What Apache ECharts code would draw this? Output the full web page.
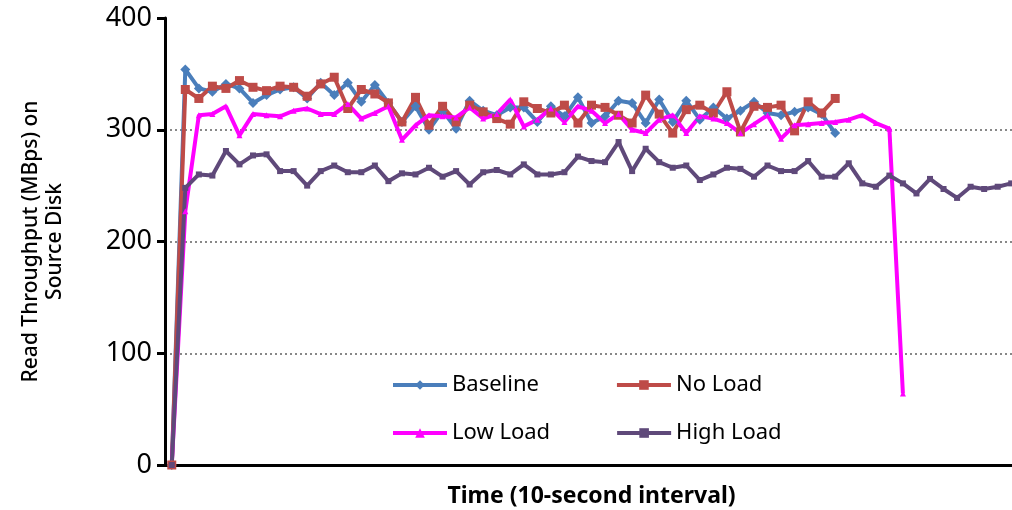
<!DOCTYPE html>
<html>
<head>
<meta charset="utf-8">
<script src="https://cdn.jsdelivr.net/npm/echarts@6/dist/echarts.min.js"></script>
<style>
  html, body { margin: 0; padding: 0; background: #fff; }
  #chart { width: 1012px; height: 510px; }
</style>
</head>
<body>
<div id="chart"></div>
<script>
// readings from the source picture, one per 10-second interval
const baseline = [0, 354, 337, 334, 341, 337, 324, 331, 336, 338, 328, 342, 331, 342, 325, 340, 324, 307, 321, 300,
  317, 301, 326, 317, 313, 320, 320, 307, 321, 312, 329, 306, 312, 326, 324, 306, 327, 307, 326, 309,
  320, 310, 317, 325, 315, 313, 316, 320, 314, 297]
const noLoad = [0, 336, 328, 339, 337, 344, 338, 335, 339, 338, 330, 341, 347, 319, 336, 332, 324, 307, 329, 304,
  321, 307, 322, 316, 310, 305, 325, 319, 315, 322, 306, 322, 320, 313, 306, 331, 314, 297, 318, 322,
  315, 334, 298, 321, 320, 322, 299, 325, 315, 328]
const lowLoad = [0, 227, 313, 314, 321, 295, 314, 313, 312, 317, 319, 314, 314, 323, 310, 315, 321, 291, 304, 313,
  312, 311, 320, 310, 314, 327, 303, 309, 319, 307, 321, 317, 306, 314, 300, 297, 309, 313, 297, 312,
  310, 306, 297, 305, 313, 292, 304, 305, 306, 307, 309, 313, 306, 301, 64]
const highLoad = [0, 248, 260, 259, 281, 269, 277, 278, 263, 263, 250, 263, 268, 262, 262, 268, 254, 261, 260, 266,
  258, 263, 251, 262, 264, 260, 269, 260, 260, 262, 276, 272, 271, 289, 263, 283, 271, 266, 268, 255,
  260, 266, 265, 258, 268, 263, 263, 272, 258, 258, 270, 252, 249, 259, 252, 243, 256, 247, 239, 249,
  247, 249, 252]
const intervals = highLoad.map((v, i) => String(i + 1))
const yTicks = [0, 100, 200, 300, 400]

const font = 'Noto Sans'
const chart = echarts.init(document.getElementById('chart'))

const line = (name, data, color, symbol, size) => ({
  name, type: 'line', data,
  symbol, symbolSize: size,
  showAllSymbol: true,
  lineStyle: { color, width: 4 },
  itemStyle: { color },
  animation: false
})

const legendText = { fontSize: 22, color: '#000', fontFamily: font }

chart.setOption({
  backgroundColor: '#fff',
  textStyle: { fontFamily: font },
  grid: { left: 165, top: 18, bottom: 45, width: 853, outerBoundsMode: 'none', containLabel: false },
  legend: [{
    data: ['Baseline', 'No Load'],
    left: 386, top: 369,
    itemWidth: 54, itemHeight: 12, itemGap: 76,
    lineStyle: { width: 4 },
    textStyle: legendText
  }, {
    data: ['Low Load', 'High Load'],
    left: 386, top: 417,
    itemWidth: 54, itemHeight: 12, itemGap: 65,
    lineStyle: { width: 4 },
    textStyle: legendText
  }],
  xAxis: {
    type: 'category',
    data: intervals,
    boundaryGap: true,
    name: 'Time (10-second interval)',
    nameLocation: 'middle',
    nameGap: 20,
    nameTextStyle: { fontSize: 23, fontWeight: 'bold', color: '#000', fontFamily: font },
    axisLine: { lineStyle: { color: '#000', width: 3 } },
    axisTick: { show: false },
    axisLabel: { show: false }
  },
  yAxis: {
    type: 'value',
    min: yTicks[0], max: yTicks[yTicks.length - 1], interval: 100,
    name: 'Read Throughput (MBps) on\nSource Disk',
    nameLocation: 'middle',
    nameGap: 98,
    nameTextStyle: { fontSize: 21, color: '#000', fontFamily: font, lineHeight: 24, fontWeight: 500 },
    axisLine: { show: true, lineStyle: { color: '#000', width: 3 } },
    axisTick: { show: true, length: 8, lineStyle: { color: '#000', width: 3 } },
    axisLabel: { fontSize: 27, color: '#000', margin: 13, fontFamily: font },
    splitLine: {
      show: true, showMinLine: false, showMaxLine: false,
      lineStyle: { color: '#888', type: [2, 3], width: 2 }
    }
  },
  series: [
    line('Baseline', baseline, '#4A7EBB', 'diamond', 10),
    line('No Load', noLoad, '#BE4B48', 'rect', 9),
    line('Low Load', lowLoad, '#FF00FF', 'triangle', 6),
    line('High Load', highLoad, '#5F497A', 'rect', 6)
  ]
})
</script>
</body>
</html>
